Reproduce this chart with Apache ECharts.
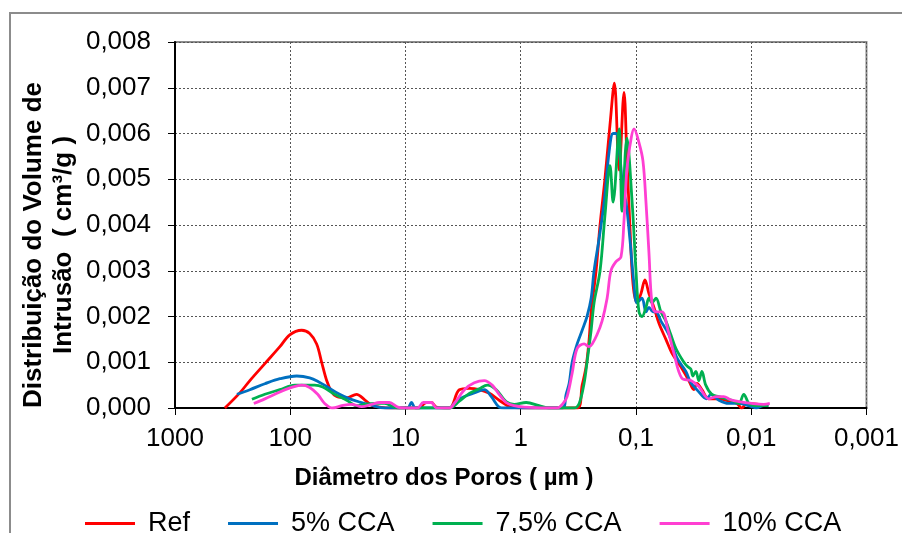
<!DOCTYPE html>
<html>
<head>
<meta charset="utf-8">
<script src="https://cdn.jsdelivr.net/npm/echarts@6/dist/echarts.min.js"></script>
<style>
  html, body { margin: 0; padding: 0; background: #fff; }
  #chart { width: 902px; height: 533px; }
</style>
</head>
<body>
<div id="chart"></div>
<script>
// Pore-size distribution: [pore diameter (µm), intrusion volume (cm³/g)]
const seriesNames = ['Ref', '5% CCA', '7,5% CCA', '10% CCA'];
const seriesColors = ['#FF0000', '#0070C0', '#00B050', '#FF3FD2'];
const xTickLabels = { '-3': '0,001', '-2': '0,01', '-1': '0,1', '0': '1', '1': '10', '2': '100', '3': '1000' };

const refData = [
  [369, 0], [274, 0.00033], [224, 0.0006], [166, 0.00097], [123, 0.00134], [101, 0.0016],
  [79.5, 0.0017], [67.8, 0.00163], [59.0, 0.0014], [53.4, 0.001], [48.3, 0.0006], [43.7, 0.00035],
  [39.6, 0.00025], [32.4, 0.00022], [26.6, 0.0003], [22.6, 0.00018], [19.7, 0.00006],
  [16.8, 0.00002], [13.2, 0], [7.56, 0], [6.99, 0.00008], [6.58, 0.00012], [5.95, 0.00012], [5.39, 0.00002],
  [4.16, 0], [3.41, 0.0004], [2.79, 0.00043], [2.29, 0.0004], [1.87, 0.00032], [1.54, 0.00017],
  [1.21, 0.00002], [0.844, 0], [0.324, 0], [0.293, 0.0005], [0.271, 0.0009], [0.255, 0.0015],
  [0.245, 0.0021], [0.222, 0.003], [0.205, 0.004], [0.186, 0.005], [0.168, 0.0062], [0.154, 0.0071],
  [0.140, 0.0052], [0.127, 0.0069], [0.120, 0.0055], [0.113, 0.004], [0.106, 0.0027], [0.098, 0.0023],
  [0.0905, 0.0025], [0.0836, 0.0028], [0.0772, 0.0025], [0.0698, 0.0022], [0.0632, 0.00185],
  [0.0550, 0.0015], [0.0488, 0.0012], [0.0408, 0.0009], [0.0348, 0.0006], [0.0315, 0.0004],
  [0.0296, 0.00054], [0.0268, 0.0004], [0.0233, 0.0002], [0.0191, 0.0002], [0.0157, 0.00015],
  [0.0133, 0.0001], [0.0121, 0], [0.0109, 0.0001], [0.0086, 0.00008], [0.0071, 0.00007]
];

const cca5Data = [
  [290, 0.0003], [224, 0.0004], [166, 0.00053], [123, 0.00064], [87.8, 0.0007], [67.8, 0.00066],
  [55.5, 0.00056], [48.3, 0.00047], [37.3, 0.0003], [30.5, 0.0002], [25.0, 0.00013], [19.7, 0.00006],
  [15.2, 0], [9.6, 0], [8.87, 0.00012], [8.19, 0], [4.16, 0], [3.62, 0.00015], [3.08, 0.00025],
  [2.53, 0.00033], [2.07, 0.0004], [1.80, 0.00025], [1.54, 0.00002], [1.39, 0], [0.437, 0],
  [0.404, 0.0003], [0.380, 0.00054], [0.358, 0.001], [0.324, 0.0014], [0.293, 0.0017], [0.266, 0.002],
  [0.245, 0.0024], [0.231, 0.003], [0.209, 0.0037], [0.189, 0.0045], [0.171, 0.0056], [0.158, 0.006],
  [0.149, 0.006], [0.138, 0.0055], [0.130, 0.0048], [0.122, 0.0045], [0.113, 0.0037], [0.104, 0.0027],
  [0.098, 0.0023], [0.0887, 0.0024], [0.0819, 0.0021], [0.0772, 0.0022], [0.0712, 0.0021],
  [0.0671, 0.0021], [0.0607, 0.0019], [0.0518, 0.0016], [0.0442, 0.0011], [0.0369, 0.0008],
  [0.0334, 0.00055], [0.0296, 0.0004], [0.0243, 0.0002], [0.0224, 0.0003], [0.0191, 0.00017],
  [0.0157, 0.0001], [0.0128, 0.0001], [0.0099, 0.00003], [0.0090, 0], [0.0078, 0.00005], [0.0071, 0.00005]
];

const cca75Data = [
  [215, 0.00019], [166, 0.0003], [123, 0.0004], [91.4, 0.0005], [74.9, 0.0005], [61.4, 0.0005],
  [52.3, 0.00046], [41.2, 0.0003], [32.4, 0.00017], [26.6, 0.00005], [22.6, 0.00008], [18.6, 0.0001],
  [15.2, 0.0001], [12.5, 0.00002], [11.3, 0], [4.16, 0], [3.41, 0.00015], [2.79, 0.00032],
  [2.29, 0.00042], [1.95, 0.0005], [1.63, 0.0004], [1.34, 0.00014], [1.14, 0.00008], [0.896, 0.00012],
  [0.692, 0.00005], [0.567, 0], [0.344, 0], [0.311, 0.0001], [0.282, 0.00054], [0.266, 0.001],
  [0.245, 0.0017], [0.231, 0.0023], [0.205, 0.003], [0.186, 0.0042], [0.168, 0.0053], [0.158, 0.0045],
  [0.140, 0.0061], [0.132, 0.0043], [0.120, 0.0059], [0.108, 0.0045], [0.100, 0.003], [0.0942, 0.0021],
  [0.0887, 0.002], [0.0819, 0.0022], [0.0772, 0.0024], [0.0727, 0.0023], [0.0671, 0.0024],
  [0.0607, 0.0021], [0.0550, 0.0019], [0.0498, 0.0016], [0.0450, 0.0013], [0.0384, 0.001],
  [0.0355, 0.0009], [0.0334, 0.00085], [0.0321, 0.0007], [0.0302, 0.0008], [0.0285, 0.0006],
  [0.0268, 0.0008], [0.0248, 0.0005], [0.0220, 0.0003], [0.0191, 0.00025], [0.0163, 0.0002],
  [0.0142, 0.00015], [0.0128, 0.0001], [0.0116, 0.0003], [0.0105, 0.0001], [0.0095, 0.00005],
  [0.0086, 0.00005], [0.0071, 0.00005]
];

const cca10Data = [
  [207, 0.0001], [166, 0.0002], [123, 0.00035], [97, 0.00045], [79.5, 0.0005], [67.8, 0.00045],
  [57.8, 0.0003], [50.3, 0.0001], [42.9, 0], [35.8, 0.00005], [29.3, 0.00008], [24.0, 0.00003],
  [19.7, 0.00008], [16.8, 0.00012], [13.8, 0.00012], [11.7, 0.00002], [10.2, 0], [7.87, 0],
  [6.99, 0.00012], [5.95, 0.00012], [5.39, 0], [4.16, 0], [3.77, 0.0001], [3.08, 0.0004],
  [2.53, 0.00055], [2.07, 0.0006], [1.77, 0.0005], [1.54, 0.0003], [1.34, 0.00012], [1.14, 0.00005],
  [0.933, 0.00002], [0.483, 0], [0.429, 0.0001], [0.396, 0.00025], [0.358, 0.00076], [0.324, 0.0013],
  [0.282, 0.0014], [0.255, 0.00134], [0.240, 0.0014], [0.218, 0.0016], [0.197, 0.0019], [0.178, 0.0024],
  [0.165, 0.003], [0.149, 0.0032], [0.135, 0.0033], [0.127, 0.0041], [0.120, 0.0052], [0.110, 0.0059],
  [0.104, 0.0061], [0.0942, 0.0058], [0.0870, 0.0054], [0.0819, 0.0045], [0.0772, 0.0034],
  [0.0727, 0.0023], [0.0671, 0.0021], [0.0595, 0.0021], [0.0528, 0.0017], [0.0469, 0.0012],
  [0.0400, 0.00065], [0.0334, 0.0006], [0.0285, 0.00047], [0.0233, 0.0002], [0.0199, 0.00025],
  [0.0173, 0.00025], [0.0151, 0.00018], [0.0128, 0.00014], [0.0099, 0.0001], [0.0078, 0.00008],
  [0.0069, 0.0001]
];

const allData = [refData, cca5Data, cca75Data, cca10Data];
const FONT = '"Liberation Sans", Arial, sans-serif';

const chart = echarts.init(document.getElementById('chart'), null, { renderer: 'canvas' });

const gridDots = { color: '#555', width: 1, type: [2, 2] };

chart.setOption({
  animation: false,
  backgroundColor: '#fff',
  textStyle: { fontFamily: FONT },
  grid: {
    left: 175, top: 42, right: 34, bottom: 125,
    show: true, borderColor: '#8c8c8c', borderWidth: 2
  },
  xAxis: {
    type: 'log',
    logBase: 10,
    min: 0.001,
    max: 1000,
    inverse: true,
    splitNumber: 6,
    axisLine: { show: true, onZero: false, lineStyle: { color: '#000', width: 2 } },
    axisTick: { show: true, inside: false, length: 7, lineStyle: { color: '#000', width: 1 } },
    minorTick: { show: false },
    splitLine: { show: true, lineStyle: gridDots },
    axisLabel: {
      color: '#000', fontSize: 26, fontFamily: FONT, margin: 18,
      formatter: v => xTickLabels[String(Math.round(Math.log10(v)))] || ''
    }
  },
  yAxis: {
    type: 'value',
    min: 0,
    max: 0.008,
    interval: 0.001,
    axisLine: { show: true, lineStyle: { color: '#000', width: 2 } },
    axisTick: { show: true, inside: false, length: 7, lineStyle: { color: '#000', width: 1 } },
    splitLine: { show: true, lineStyle: gridDots },
    axisLabel: {
      color: '#000', fontSize: 26, fontFamily: FONT, margin: 24,
      formatter: v => v.toFixed(3).replace('.', ',')
    }
  },
  legend: {
    data: seriesNames,
    left: 85,
    top: 510,
    padding: 0,
    icon: 'rect',
    itemWidth: 50,
    itemHeight: 3,
    itemGap: 38,
    textStyle: { color: '#000', fontSize: 27, fontFamily: FONT, padding: [0, 0, 0, 8] }
  },
  graphic: [
    {
      type: 'rect', z: -10, silent: true,
      shape: { x: 10, y: 13, width: 940, height: 560 },
      style: { fill: null, stroke: '#8c8c8c', lineWidth: 2 }
    },
    {
      type: 'text', x: 49, y: 245, rotation: Math.PI / 2, silent: true,
      style: {
        text: 'Distribuição do Volume de\nIntrusão  ( cm³/g )',
        fill: '#000', fontSize: 26, fontWeight: 'bold', fontFamily: FONT,
        lineHeight: 30, align: 'center', verticalAlign: 'middle'
      }
    },
    {
      type: 'text', x: 444, y: 478, silent: true,
      style: {
        text: 'Diâmetro dos Poros ( µm )',
        fill: '#000', fontSize: 24, fontWeight: 'bold', fontFamily: FONT,
        align: 'center', verticalAlign: 'middle'
      }
    }
  ],
  series: seriesNames.map((name, i) => ({
    name,
    type: 'line',
    data: allData[i],
    showSymbol: false,
    smooth: 0.35,
    clip: true,
    color: seriesColors[i],
    lineStyle: { color: seriesColors[i], width: 2.8 }
  }))
});
</script>
</body>
</html>
